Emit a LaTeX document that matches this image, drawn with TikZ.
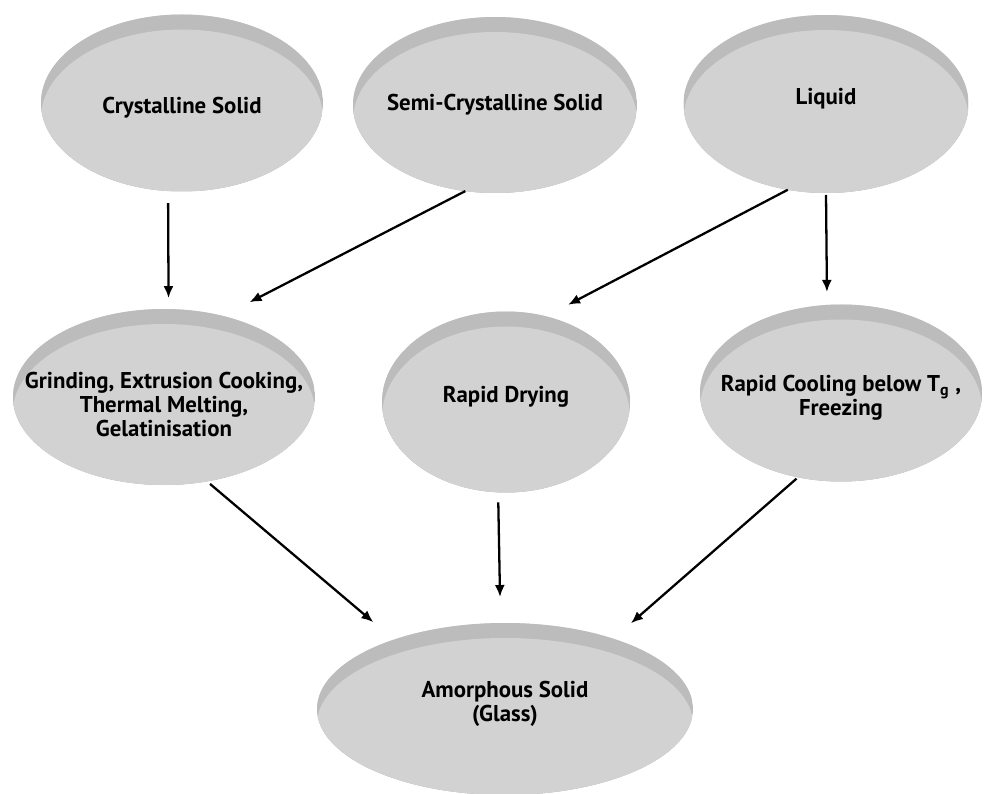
\documentclass[tikz,border=0pt]{standalone}
\usepackage{fontspec}
\setmainfont{PT Sans}
\usetikzlibrary{arrows.meta}
\usetikzlibrary{shapes.geometric}
\usetikzlibrary{calc}
\definecolor{discbody}{RGB}{210,210,210}
\definecolor{discrim}{RGB}{188,188,188}
\tikzset{
  disc/.style 2 args={ellipse, minimum width=#1, minimum height=#2, inner sep=0pt, outer sep=0pt, fill=discbody,
    path picture={
      \fill[discrim] (path picture bounding box.south west) rectangle (path picture bounding box.north east);
      \fill[discbody] let \p1=($(path picture bounding box.north east)-(path picture bounding box.center)$) in
        ([yshift=-0.3cm]path picture bounding box.center) ellipse [x radius=\x1, y radius=\y1];
    }},
  disctext/.style={font=\bfseries\fontsize{13}{13.5}\selectfont, align=center}
}
\begin{document}
\begin{tikzpicture}[>={Latex[length=0.24cm, width=0.2cm]}, line width=1.3pt]
         \useasboundingbox (0,0) rectangle (19.68,-15.88);
         % top row
         \node[disc={5.64cm}{3.54cm}, label={[disctext, yshift=-1mm]center:Crystalline Solid}] (crys) at (3.64,-2.06) {};
         \node[disc={5.68cm}{3.52cm}, label={[disctext]center:Semi-Crystalline Solid}] (semi) at (9.90,-2.10) {};
         \node[disc={5.70cm}{3.56cm}, label={[disctext, yshift=1mm]center:Liquid}] (liquid) at (16.52,-2.08) {};
         % middle row
         \node[disc={6.04cm}{3.52cm}, label={[disctext, yshift=-1.5mm]center:Grinding, Extrusion Cooking,\\Thermal Melting,\\Gelatinisation}] (grind) at (3.28,-7.94) {};
         \node[disc={4.96cm}{3.62cm}, label={[disctext, yshift=1mm]center:Rapid Drying}] (drying) at (10.12,-8.04) {};
         \node[disc={5.64cm}{3.54cm}, label={[disctext, yshift=-1mm]center:Rapid Cooling below T\textsubscript{g} ,\\Freezing}] (cool) at (16.82,-7.86) {};
         % bottom
         \node[disc={7.52cm}{3.44cm}, label={[disctext, yshift=1mm]center:Amorphous Solid\\(Glass)}] (amorph) at (10.10,-14.18) {};
         % arrows
         \draw[->, shorten <=0.24cm, shorten >=0.22cm] (crys.261.6) -- (grind.87);
         \draw[->, shorten >=0.6cm] (semi.251) -- (grind.54);
         \draw[->, shorten >=0.5cm] (liquid.246.2) -- (drying.65.1);
         \draw[->, shorten <=0.04cm, shorten >=0.26cm] (liquid.270) -- (cool.99);
         \draw[->, shorten <=0.08cm, shorten >=0.54cm] (grind.297.6) -- (amorph.148.8);
         \draw[->, shorten <=0.2cm, shorten >=0.52cm] (drying.265.6) -- (amorph.93.9);
         \draw[->, shorten <=0.04cm, shorten >=0.47cm] (cool.243.4) -- (amorph.33.2);
        \end{tikzpicture}
\end{document}
